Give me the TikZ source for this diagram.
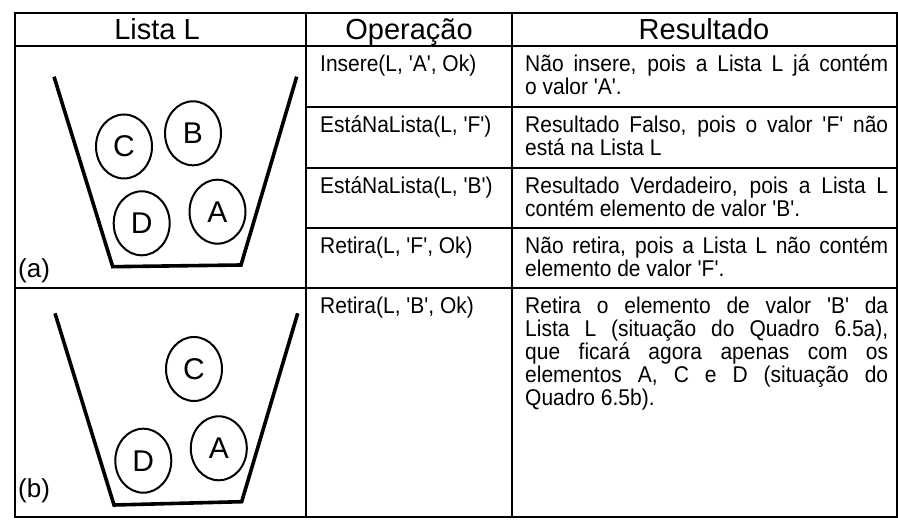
\documentclass[tikz,border=0pt]{standalone}
\usepackage{fontspec}
\setmainfont{Liberation Sans}[Ligatures=TeXOff]
\newfontfamily\bodyfont{Liberation Sans}[Ligatures=TeXOff,FakeStretch=0.92]
\usetikzlibrary{shapes.geometric}
\newcommand\jline[1]{\makebox[363pt][s]{#1}}
\begin{document}
\begin{tikzpicture}[x=1pt,y=-1pt,
  grid/.style={line width=1.4pt},
  frame/.style={line width=2pt},
  bucket/.style={line width=3.6pt,line join=miter},
  ball/.style={ellipse,draw,line width=2pt,minimum width=56pt,minimum height=64pt,inner sep=0pt,font=\fontsize{30}{32}\selectfont},
  head/.style={inner sep=0pt,anchor=base,font=\fontsize{29}{31}\selectfont},
  txt/.style={inner sep=0pt,anchor=base west,font=\bodyfont\fontsize{22.8}{23}\selectfont},
  lab/.style={inner sep=0pt,anchor=base west,font=\fontsize{26}{28}\selectfont}]
\useasboundingbox (0,0) rectangle (898,526);
\fill[white] (0,0) rectangle (898,526);
% table grid
\draw[grid] (15,46) -- (897,46);
\draw[grid] (15,288) -- (897,288);
\draw[grid] (306,107) -- (897,107);
\draw[grid] (306,168) -- (897,168);
\draw[grid] (306,228) -- (897,228);
\draw[grid] (306,13) -- (306,517);
\draw[grid] (512,13) -- (512,517);
\draw[frame] (15,13) rectangle (897,517);
% headers
\node[head] (h1) at (157,39.7) {Lista L};
\node[head] (h2) at (409,39.7) {Operação};
\node[head] (h3) at (704,39.7) {Resultado};
% operations
\node[txt] (o1) at (320,71.5) {Insere(L, 'A', Ok)};
\node[txt] (o2) at (320,132.5) {EstáNaLista(L, 'F')};
\node[txt] (o3) at (320,193.5) {EstáNaLista(L, 'B')};
\node[txt] (o4) at (320,253.5) {Retira(L, 'F', Ok)};
\node[txt] (o5) at (320,313.5) {Retira(L, 'B', Ok)};
% results
\node[txt] (r1a) at (525,71.5) {\jline{Não insere, pois a Lista L já contém}};
\node[txt] (r1b) at (525,94.5) {o valor 'A'.};
\node[txt] (r2a) at (525,132.5) {\jline{Resultado Falso, pois o valor 'F' não}};
\node[txt] (r2b) at (525,155.5) {está na Lista L};
\node[txt] (r3a) at (525,193.5) {\jline{Resultado Verdadeiro, pois a Lista L}};
\node[txt] (r3b) at (525,216.5) {contém elemento de valor 'B'.};
\node[txt] (r4a) at (525,253.5) {\jline{Não retira, pois a Lista L não contém}};
\node[txt] (r4b) at (525,276.5) {elemento de valor 'F'.};
\node[txt] (r5a) at (525,313.5) {\jline{Retira o elemento de valor 'B' da}};
\node[txt] (r5b) at (525,336.5) {\jline{Lista L (situação do Quadro 6.5a),}};
\node[txt] (r5c) at (525,359.5) {\jline{que ficará agora apenas com os}};
\node[txt] (r5d) at (525,382.5) {\jline{elementos A, C e D (situação do}};
\node[txt] (r5e) at (525,405.5) {Quadro 6.5b).};
% bucket (a)
\draw[bucket] (54,76.7) -- (112.7,266.7) -- (241,265) -- (296.7,76.7);
\node[ball] (aC) at (124,146.5) {C};
\node[ball] (aB) at (193,133.3) {B};
\node[ball] (aD) at (141.7,223.3) {D};
\node[ball] (aA) at (217.5,211.7) {A};
\node[lab] (la) at (18,278) {(a)};
% bucket (b)
\draw[bucket] (55,313.3) -- (114,505) -- (241.7,501.7) -- (297.7,313.3);
\node[ball] (bC) at (194,369) {C};
\node[ball] (bD) at (143.3,460.7) {D};
\node[ball] (bA) at (218.8,448.3) {A};
\node[lab] (lb) at (18,498) {(b)};
\end{tikzpicture}
\end{document}
